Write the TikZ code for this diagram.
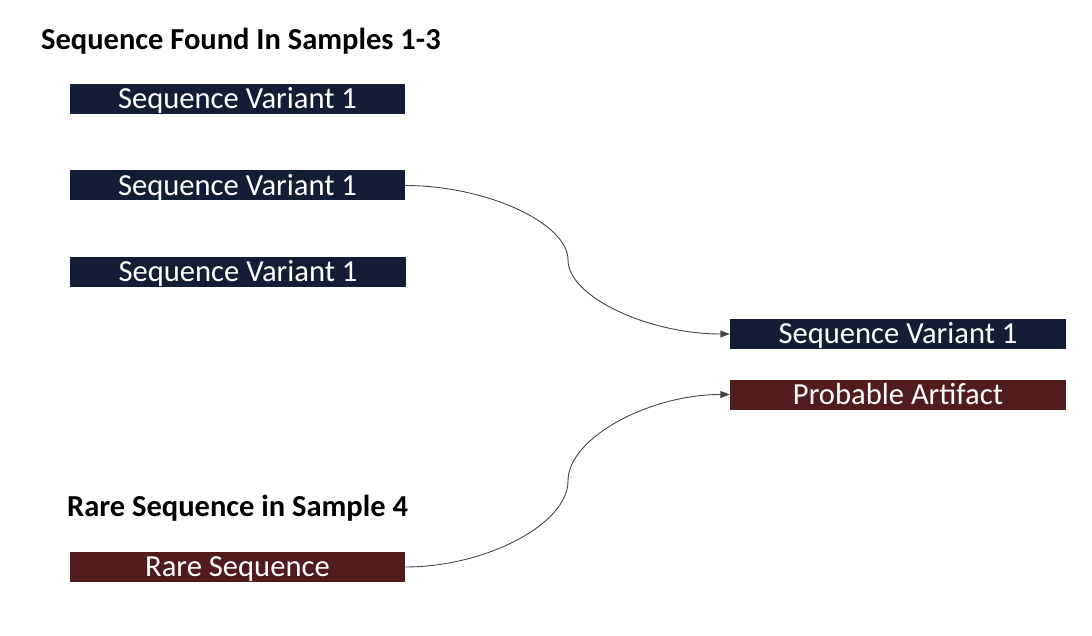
\documentclass[tikz,border=0pt]{standalone}
\usepackage{fontspec}
\setmainfont{Carlito}
\usetikzlibrary{arrows.meta}
\definecolor{navy}{HTML}{131D35}
\definecolor{maroon}{HTML}{521C1C}
\definecolor{linegray}{HTML}{454545}
\begin{document}
\begin{tikzpicture}[x=1pt,y=-1pt,
  box/.style={rectangle,inner sep=0pt,minimum width=335pt,text height=24.8pt,text depth=5.2pt,text=white,
    font=\fontsize{30.6}{32}\selectfont},
  seqbox/.style={box,fill=navy},
  artbox/.style={box,fill=maroon},
  title/.style={font=\bfseries\fontsize{30.5}{32}\selectfont,inner sep=0pt,anchor=base west},
  conn/.style={draw=linegray,line width=0.9pt,-{Triangle[length=9.5pt,width=7pt,fill=linegray]}}]
\useasboundingbox (0,0) rectangle (1092,636);
\node[title] (t1) at (41,50) {Sequence Found In Samples 1-3};
\node[seqbox] (a1) at (237.5,99) {Sequence Variant 1};
\node[seqbox] (a2) at (237.5,185.5) {Sequence Variant 1};
\node[seqbox,minimum width=336pt] (a3) at (238,272) {Sequence Variant 1};
\node[seqbox,minimum width=336pt] (b1) at (898,334) {Sequence Variant 1};
\node[artbox,minimum width=336pt] (b2) at (898,394.5) {Probable Artifact};
\node[title] (t2) at (67,516) {Rare Sequence in Sample 4};
\node[artbox] (r) at (237.5,567) {Rare Sequence};
\coordinate (m1) at (568,260);
\coordinate (m2) at (568,481);
\draw[conn] (a2.east) .. controls (486,185.5) and (568,223) .. (m1)
  .. controls (568,297) and (649,334) .. (b1.west);
\draw[conn] (r.east) .. controls (486,567) and (568,524) .. (m2)
  .. controls (568,438) and (649,394.5) .. (b2.west);
\end{tikzpicture}
\end{document}
